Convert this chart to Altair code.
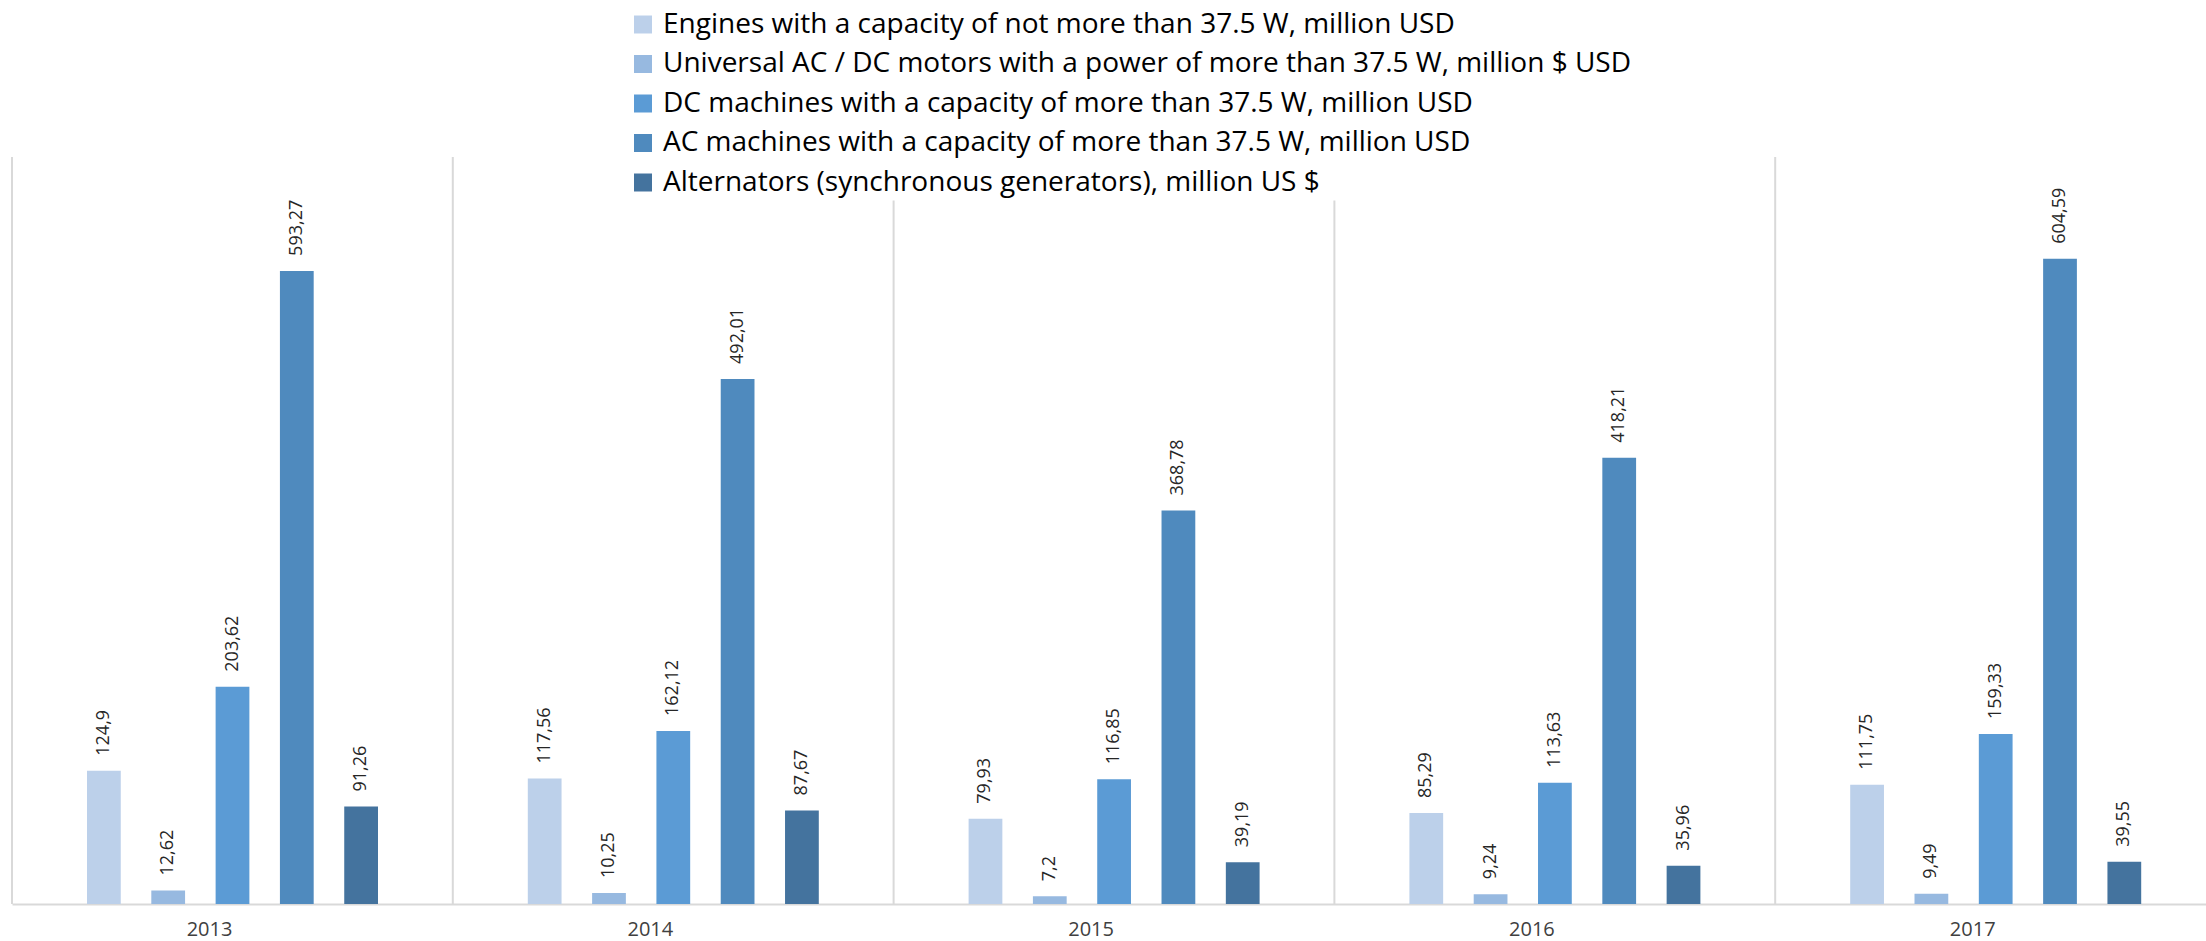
import altair as alt
import pandas as pd

years = ["2013", "2014", "2015", "2016", "2017"]
series = [
    "Engines with a capacity of not more than 37.5 W, million USD",
    "Universal AC / DC motors with a power of more than 37.5 W, million $ USD",
    "DC machines with a capacity of more than 37.5 W, million USD",
    "AC machines with a capacity of more than 37.5 W, million USD",
    "Alternators (synchronous generators), million US $",
]
engines = [124.9, 117.56, 79.93, 85.29, 111.75]
universal = [12.62, 10.25, 7.2, 9.24, 9.49]
dc_machines = [203.62, 162.12, 116.85, 113.63, 159.33]
ac_machines = [593.27, 492.01, 368.78, 418.21, 604.59]
alternators = [91.26, 87.67, 39.19, 35.96, 39.55]
colors = ["#BCD0EA", "#97B9E0", "#5B9BD5", "#4F8ABE", "#44739E"]

rows = []
for name, vals in zip(series, [engines, universal, dc_machines, ac_machines, alternators]):
    for y, v in zip(years, vals):
        rows.append({"year": y, "series": name, "value": v,
                     "label": f"{v:g}".replace(".", ",")})
df = pd.DataFrame(rows)

x_enc = alt.X(
    "year:N", sort=years,
    scale=alt.Scale(range=[0, 2204], paddingInner=0, paddingOuter=0),
    axis=alt.Axis(title=None, ticks=False, grid=False, labelAngle=0,
                  labelFont="Open Sans", labelFontSize=20, labelColor="#404040",
                  labelPadding=25, domainColor="#D9D9D9", domainWidth=2),
)
xoff = alt.XOffset("series:N", sort=series,
                   scale=alt.Scale(range=[75, 366], paddingInner=0.475, paddingOuter=0))
y_enc = alt.Y("value:Q", scale=alt.Scale(domain=[0, 700], nice=False), axis=None)

grid = alt.Chart(pd.DataFrame({"year": years})).mark_rule(
    color="#D9D9D9", strokeWidth=2
).encode(x=alt.X("year:N", sort=years, bandPosition=0))

bars = alt.Chart(df).mark_bar().encode(
    x=x_enc,
    xOffset=xoff,
    y=y_enc,
    color=alt.Color(
        "series:N", sort=series,
        scale=alt.Scale(domain=series, range=colors),
        legend=alt.Legend(
            title=None, orient="none", legendX=613, legendY=-150.5,
            direction="vertical", symbolType="square", symbolSize=324,
            symbolStrokeWidth=0, labelFont="Open Sans", labelFontSize=28,
            labelColor="#000000", rowPadding=11.5, fillColor="white",
            padding=4, labelLimit=0, labelOffset=6,
        ),
    ),
)

labels = alt.Chart(df).mark_text(
    angle=270, align="left", baseline="middle", dx=15,
    font="Open Sans", fontSize=18, color="#262626",
).encode(x=x_enc, xOffset=xoff, y=y_enc, text="label:N")

chart = alt.layer(grid, bars, labels).properties(
    width=2194, height=747,
    autosize=alt.AutoSizeParams(type="none"),
    padding={"left": 12, "top": 157, "right": 0, "bottom": 37},
    background="white",
).configure_view(stroke=None)

chart.save("out.html", embed_options={"renderer": "svg", "actions": False})
